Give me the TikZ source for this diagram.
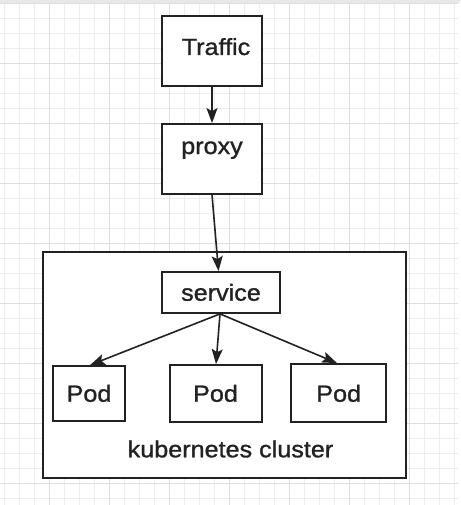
\documentclass[tikz,border=0pt]{standalone}
\usepackage{fontspec}
\setmainfont{Liberation Sans}
\newfontfamily\diafont[FakeStretch=1.08,FakeBold=1.2]{Liberation Sans}
\usetikzlibrary{arrows.meta}
\definecolor{ink}{HTML}{222222}
\definecolor{gridminor}{HTML}{EDEDED}
\definecolor{gridmajor}{HTML}{DEDEDE}
\definecolor{topband}{HTML}{E8E8E8}
\tikzset{
  box/.style={draw=ink, line width=1.8pt, fill=white, inner sep=0pt, rectangle},
  txt/.style={anchor=base, inner sep=0pt, text=ink, font=\diafont\fontsize{23.3}{26}\selectfont},
  conn/.style={draw=ink, line width=1.6pt, -{Stealth[length=15pt,width=11pt,inset=3pt]}},
  minorline/.style={draw=gridminor, line width=1pt},
  majorline/.style={draw=gridmajor, line width=1pt},
}
\begin{document}
\begin{tikzpicture}[x=1pt,y=-1pt]
\useasboundingbox (0,0) rectangle (460,505);
\fill[white] (0,0) rectangle (460,505);
% grid
\foreach \k in {0,...,30} {
  \draw[minorline] ({4.3+15*\k},3) -- ({4.3+15*\k},505);
}
\foreach \k in {0,...,33} {
  \draw[minorline] (0,{3.3+15*\k}) -- (458,{3.3+15*\k});
}
\foreach \k in {0,...,7} {
  \draw[majorline] ({49.3+60*\k},3) -- ({49.3+60*\k},505);
}
\foreach \k in {0,...,8} {
  \draw[majorline] (0,{3.3+60*\k}) -- (458,{3.3+60*\k});
}
\fill[topband] (0,0) rectangle (460,3);

% boxes
\node[box, minimum width=100pt, minimum height=70pt] (traffic) at (212,51) {};
\node[box, minimum width=100pt, minimum height=70pt] (proxy) at (212,159) {};
\node[box, minimum width=363pt, minimum height=226pt] (cluster) at (224.5,365) {};
\node[box, minimum width=118pt, minimum height=41pt] (service) at (221,292.5) {};
\node[box, minimum width=72pt, minimum height=55pt] (pod1) at (89,393.5) {};
\node[box, minimum width=92pt, minimum height=57pt] (pod2) at (216,393.5) {};
\node[box, minimum width=95pt, minimum height=58pt] (pod3) at (338.5,393) {};

% texts
\node[txt] (trafficT) at (216,55) {Traffic};
\node[txt] (proxyT) at (212,154) {proxy};
\node[txt] (serviceT) at (221,300.7) {service};
\node[txt] (pod1T) at (89,401.7) {Pod};
\node[txt] (pod2T) at (215.5,401.7) {Pod};
\node[txt] (pod3T) at (338.7,401.7) {Pod};
\node[txt] (clusterT) at (230.5,457.3) {kubernetes cluster};

% connectors
\draw[conn] (traffic.south) -- (proxy.north);
\draw[conn] (proxy.south) -- ([xshift=-2.5pt]service.north);
\draw[conn] ([xshift=-1pt]service.south) -- ([xshift=1pt]pod1.north);
\draw[conn] ([xshift=-1pt]service.south) -- (pod2.north);
\draw[conn] ([xshift=-1pt]service.south) -- ([xshift=-1.5pt]pod3.north);
\end{tikzpicture}
\end{document}
